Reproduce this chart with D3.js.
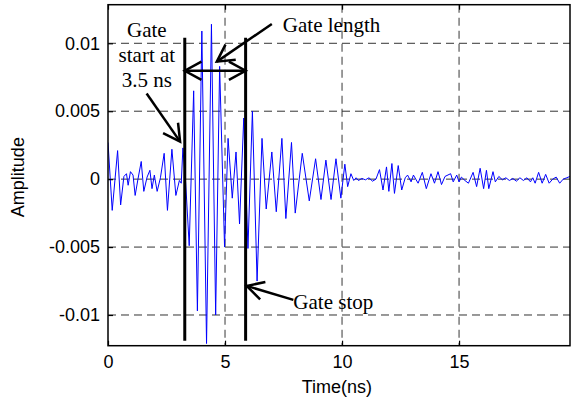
<!DOCTYPE html>
<html>
<head>
<meta charset="utf-8">
<script src="https://cdn.jsdelivr.net/npm/d3@7"></script>
<style>
    body { margin: 0; background: #fff; }
    #chart { width: 571px; height: 400px; }
</style>
</head>
<body>
<div id="chart"></div>
<script>

// trace vertices: time in ns, amplitude in units of 1e-3
const timeNs = [
    0.00, 0.18, 0.41, 0.54, 0.68, 0.79, 0.86, 0.96, 1.07, 1.16,
    1.28, 1.42, 1.53, 1.67, 1.79, 1.88, 1.98, 2.10, 2.24, 2.40,
    2.54, 2.73, 2.90, 3.05, 3.13, 3.20, 3.32, 3.47, 3.66, 3.82,
    4.01, 4.21, 4.42, 4.60, 4.77, 4.98, 5.13, 5.31, 5.47, 5.62,
    5.80, 5.98, 6.17, 6.37, 6.58, 6.76, 7.00, 7.19, 7.43, 7.60,
    7.84, 8.00, 8.30, 8.60, 8.87, 9.10, 9.31, 9.53, 9.74, 9.95,
    10.12, 10.24, 10.38, 10.50, 10.60, 10.70, 10.85, 11.00, 11.15, 11.30,
    11.45, 11.60, 11.75, 11.90, 12.00, 12.13, 12.24, 12.40, 12.55, 12.70,
    12.80, 12.95, 13.05, 13.25, 13.43, 13.60, 13.80, 13.95, 14.10, 14.25,
    14.40, 14.64, 14.75, 14.90, 15.00, 15.10, 15.25, 15.40, 15.60, 15.75,
    15.90, 16.05, 16.17, 16.27, 16.45, 16.55, 16.70, 16.85, 17.00, 17.15,
    17.30, 17.45, 17.60, 17.75, 17.90, 18.05, 18.15, 18.25, 18.40, 18.55,
    18.70, 18.85, 19.00, 19.15, 19.30, 19.45, 19.60, 19.74
];
const ampMilli = [
    2.7, -2.3, 2.1, -1.9, 0.2, 0.4, -0.45, 0.55, 0.3, -1.2,
    0.0, 1.3, -0.9, 0.15, 0.65, -0.7, 0.3, -0.9, 0.1, 1.9,
    -2.3, 2.2, -1.2, -0.1, -0.3, 2.3, -0.3, -4.9, 6.5, -9.7,
    10.9, -12.1, 11.4, -10.0, 8.3, -5.0, 3.0, -1.4, 2.0, -3.3,
    4.5, -5.1, 5.0, -7.5, 3.0, -2.2, 2.0, -2.4, 3.0, -2.9,
    2.7, -2.5, 1.9, -1.6, 1.5, -1.5, 1.4, -1.5, 1.5, -1.4,
    1.1, -0.55, 0.4, -0.1, 0.1, -0.1, 0.05, -0.05, 0.1, -0.15,
    0.0, 0.7, -0.8, 0.9, -0.9, 1.15, -1.05, 1.0, -0.8, 0.1,
    0.3, -0.2, 0.3, -0.3, 0.5, -0.7, 0.4, -0.3, 0.55, -0.4,
    0.2, 0.4, -0.2, 0.3, -0.2, 0.15, -0.1, -0.3, 0.5, -0.55,
    0.8, -0.7, 0.65, -0.7, 0.55, -0.2, 0.2, -0.05, 0.1, -0.1,
    0.05, -0.15, 0.1, -0.1, 0.1, -0.2, 0.1, -0.3, 0.5, -0.3,
    0.35, -0.3, 0.0, 0.15, -0.3, 0.0, 0.1, 0.2
];

// gate markers (ns) and their vertical extent
const gateTimes = [3.28, 5.88];
const gateSpan = [-0.0119, 0.0104];

const xTicks = [0, 5, 10, 15];
const yTicks = [-0.01, -0.005, 0, 0.005, 0.01];


class GateVis {

    constructor(parentElement, times, amps){
        this.parentElement = parentElement;
        this.data = times.map((t, i) => ({time: t, amp: amps[i] * 1e-3}));

        this.initVis();
    }

    initVis(){
        let vis = this;

        vis.margin = {top: 4.7, right: 1, bottom: 54.3, left: 108};
        vis.width = 571 - vis.margin.left - vis.margin.right;
        vis.height = 400 - vis.margin.top - vis.margin.bottom;

        vis.svg = d3.select("#" + vis.parentElement).append("svg")
            .attr("width", 571)
            .attr("height", 400)
            .append("g")
            .attr("transform", `translate(${vis.margin.left}, ${vis.margin.top})`);

        vis.x = d3.scaleLinear()
            .domain([0, 19.74])
            .range([0, vis.width]);

        vis.y = d3.scaleLinear()
            .domain([-0.01226, 0.01284])
            .range([vis.height, 0]);

        vis.svg.append("clipPath")
            .attr("id", "plotClip")
            .append("rect")
            .attr("width", vis.width)
            .attr("height", vis.height);

        // grid
        vis.svg.selectAll(".vgrid")
            .data(xTicks.filter(d => d > 0))
            .join("line")
            .attr("class", "vgrid")
            .attr("x1", d => vis.x(d)).attr("x2", d => vis.x(d))
            .attr("y1", 0).attr("y2", vis.height)
            .attr("stroke", "#666")
            .attr("stroke-width", 1.3)
            .attr("stroke-dasharray", "8,5");

        vis.svg.selectAll(".hgrid")
            .data(yTicks)
            .join("line")
            .attr("class", "hgrid")
            .attr("x1", 0).attr("x2", vis.width)
            .attr("y1", d => vis.y(d)).attr("y2", d => vis.y(d))
            .attr("stroke", "#333")
            .attr("stroke-width", 1)
            .attr("stroke-dasharray", "8,5");

        // signal
        vis.line = d3.line()
            .x(d => vis.x(d.time))
            .y(d => vis.y(d.amp));

        vis.svg.append("path")
            .datum(vis.data)
            .attr("clip-path", "url(#plotClip)")
            .attr("fill", "none")
            .attr("stroke", "#0000ff")
            .attr("stroke-width", 1)
            .attr("d", vis.line);

        // gate lines
        vis.svg.selectAll(".gate")
            .data(gateTimes)
            .join("line")
            .attr("class", "gate")
            .attr("x1", d => vis.x(d)).attr("x2", d => vis.x(d))
            .attr("y1", vis.y(gateSpan[1])).attr("y2", vis.y(gateSpan[0]))
            .attr("stroke", "#000")
            .attr("stroke-width", 3);

        // axes, ticks pointing inward
        let fmt = d => d === 0 ? "0" : String(d);

        vis.xAxis = d3.axisBottom(vis.x).tickValues(xTicks).tickSizeInner(-5).tickSizeOuter(0).tickPadding(10).tickFormat(fmt);
        vis.xTop = d3.axisTop(vis.x).tickValues(xTicks).tickSizeInner(-5).tickSizeOuter(0).tickFormat("");
        vis.yAxis = d3.axisLeft(vis.y).tickValues(yTicks).tickSizeInner(-5).tickSizeOuter(0).tickPadding(8).tickFormat(fmt);

        let styleAxis = g => {
            g.select(".domain").remove();
            g.selectAll("line").attr("stroke", "#000").attr("stroke-width", 1.2);
            g.selectAll("text")
                .attr("fill", "#000")
                .style("font-family", "'Liberation Sans', Arial, sans-serif")
                .style("font-size", "18px");
        };

        vis.svg.append("g")
            .attr("transform", `translate(0, ${vis.height})`)
            .call(vis.xAxis)
            .call(styleAxis);
        vis.svg.append("g")
            .call(vis.xTop)
            .call(styleAxis);
        vis.svg.append("g")
            .call(vis.yAxis)
            .call(styleAxis);

        // frame
        vis.svg.append("rect")
            .attr("width", vis.width)
            .attr("height", vis.height)
            .attr("fill", "none")
            .attr("stroke", "#000")
            .attr("stroke-width", 1.5);

        vis.svg.append("text")
            .text("Time(ns)")
            .attr("x", vis.x(9.78))
            .attr("y", vis.height + 47.5)
            .attr("text-anchor", "middle")
            .style("font-family", "'Liberation Sans', Arial, sans-serif")
            .style("font-size", "18px");

        vis.svg.append("text")
            .text("Amplitude")
            .attr("transform", `translate(${24 - vis.margin.left}, ${vis.y(0) - 2}) rotate(-90)`)
            .attr("text-anchor", "middle")
            .style("font-family", "'Liberation Sans', Arial, sans-serif")
            .style("font-size", "18px");

        vis.drawNotes();
    }

    arrow(t1, a1, t2, a2, both){
        let vis = this;
        let x1 = vis.x(t1), y1 = vis.y(a1), x2 = vis.x(t2), y2 = vis.y(a2);
        let g = vis.svg.append("g")
            .attr("fill", "none")
            .attr("stroke", "#000")
            .attr("stroke-width", 2.5);

        g.append("line")
            .attr("x1", x1).attr("y1", y1)
            .attr("x2", x2).attr("y2", y2);

        let head = (tx, ty, ang) => {
            let back = ang + Math.PI, len = 19, spread = 0.5;
            g.append("path")
                .attr("d", `M${tx + len * Math.cos(back - spread)},${ty + len * Math.sin(back - spread)}`
                    + `L${tx},${ty}`
                    + `L${tx + len * Math.cos(back + spread)},${ty + len * Math.sin(back + spread)}`);
        };
        let ang = Math.atan2(y2 - y1, x2 - x1);
        head(x2, y2, ang);
        if (both) head(x1, y1, ang + Math.PI);
    }

    drawNotes(){
        let vis = this;

        let note = (txt, t, a, anchor) => vis.svg.append("text")
            .text(txt)
            .attr("x", vis.x(t))
            .attr("y", vis.y(a))
            .attr("text-anchor", anchor)
            .style("font-family", "'Liberation Serif', 'Times New Roman', serif")
            .style("font-size", "21px");

        note("Gate", 1.66, 0.01049, "middle");
        note("start at", 1.66, 0.00865, "middle");
        note("3.5 ns", 1.66, 0.00676, "middle");
        note("Gate length", 7.47, 0.01085, "start");
        note("Gate stop", 7.92, -0.00956, "start");

        vis.arrow(1.65, 0.0063, 3.08, 0.00276, false);
        vis.arrow(7.0, 0.01142, 4.65, 0.00865, false);
        vis.arrow(gateTimes[0], 0.00798, gateTimes[1], 0.00798, true);
        vis.arrow(7.92, -0.00889, 5.93, -0.00786, false);
    }
}

new GateVis("chart", timeNs, ampMilli);

</script>
</body>
</html>
